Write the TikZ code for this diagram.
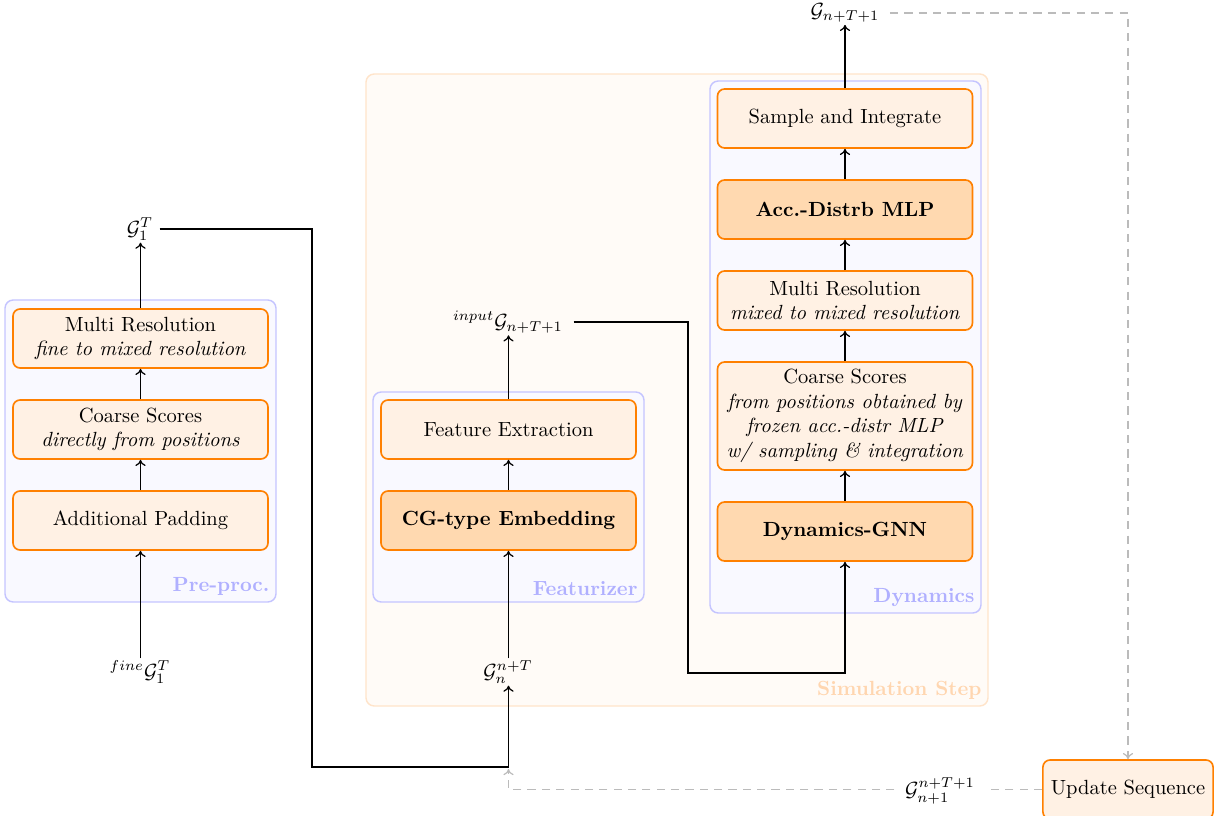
\documentclass[tikz,border=0pt]{standalone}
\usetikzlibrary{arrows.meta}
\definecolor{boxfill}{HTML}{FFF1E4}
\definecolor{boxdark}{HTML}{FFD9B0}
\definecolor{boxline}{HTML}{FF8000}
\definecolor{grpfill}{HTML}{F9F9FF}
\definecolor{grpline}{HTML}{C4C4FF}
\definecolor{grptext}{HTML}{B0B0FF}
\definecolor{simfill}{HTML}{FFFBF7}
\definecolor{simline}{HTML}{FFE4CA}
\definecolor{simtext}{HTML}{FFD6B0}
\definecolor{dashgray}{HTML}{BBBBBB}
\begin{document}
\begin{tikzpicture}[x=0.4878pt,y=-0.4878pt,
  stagebox/.style={draw=boxline, fill=boxfill, line width=0.8pt, rounded corners=3.5pt,
    minimum width=124.4pt, minimum height=28.8pt, align=center, inner sep=2pt},
  stagedark/.style={stagebox, fill=boxdark, font=\bfseries},
  grp/.style={draw=grpline, fill=grpfill, line width=0.7pt, rounded corners=4pt},
  grplabel/.style={text=grptext, font=\bfseries, anchor=south east, inner sep=2pt},
  simgrp/.style={draw=simline, fill=simfill, line width=0.7pt, rounded corners=4pt},
  simlabel/.style={text=simtext, font=\bfseries, anchor=south east, inner sep=2pt},
  conn/.style={semithick, -{To[length=3pt,width=5pt]}},
  plain/.style={semithick},
  dconn/.style={dashgray, semithick, dashed, dash pattern=on 4pt off 3pt},
  mlabel/.style={inner sep=1pt}
]
\useasboundingbox (0,0) rectangle (1217,816);

% containers
\draw[simgrp] (366,74) rectangle (988,706);
\node[simlabel] (simlab) at (986,704) {Simulation Step};

\draw[grp] (5,300) rectangle (276,602);
\node[grplabel] (prelab) at (274,600) {Pre-proc.};

\draw[grp] (373,392) rectangle (644,602);
\node[grplabel] (featlab) at (642,600) {Featurizer};

\draw[grp] (710,81) rectangle (981,613);
\node[grplabel] (dynlab) at (979,611) {Dynamics};

% Pre-proc column
\node[stagebox] (pad) at (140.5,520.5) {Additional Padding};
\node[stagebox] (cs1) at (140.5,429.5) {Coarse Scores\\\textit{directly from positions}};
\node[stagebox] (mr1) at (140.5,338.5) {Multi Resolution\\\textit{fine to mixed resolution}};
\node[mlabel] (g1T) at (140,229) {$\mathcal{G}_1^T$};
\node[mlabel] (fine) at (140,672) {${}^{fine}\mathcal{G}_1^T$};

% Featurizer column
\node[stagedark] (cge) at (508.5,520.5) {CG-type Embedding};
\node[stagebox] (fe) at (508.5,429.5) {Feature Extraction};
\node[mlabel] (gin) at (508,322) {${}^{input}\mathcal{G}_{n+T+1}$};
\node[mlabel] (gnT) at (508,672) {$\mathcal{G}_n^{n+T}$};

% Dynamics column
\node[stagedark] (gnn) at (845,531.5) {Dynamics-GNN};
\node[stagebox, minimum height=52.7pt] (cs2) at (845,416) {Coarse Scores\\\textit{from positions obtained by}\\\textit{frozen acc.-distr MLP}\\\textit{w/ sampling \& integration}};
\node[stagebox] (mr2) at (845,300.5) {Multi Resolution\\\textit{mixed to mixed resolution}};
\node[stagedark] (mlp) at (845,209.5) {Acc.-Distrb MLP};
\node[stagebox] (si) at (845,118.5) {Sample and Integrate};
\node[mlabel] (gout) at (845,13) {$\mathcal{G}_{n+T+1}$};

% Update
\node[stagebox, minimum width=83pt, inner sep=1pt] (upd) at (1128,789.5) {Update Sequence};
\node[mlabel] (gnext) at (940,791) {$\mathcal{G}_{n+1}^{n+T+1}$};

% coordinates
\coordinate (c1) at (312,767);
\coordinate (c3) at (508.5,767);
\coordinate (c2) at (688,673);

% connectors
\draw[conn] (pad.south |- fine.north) -- (pad.south);
\draw[conn] (pad.north) -- (cs1.south);
\draw[conn] (cs1.north) -- (mr1.south);
\draw[conn] (mr1.north) -- (mr1.north |- g1T.south);

\draw[conn] (cge.south |- gnT.north) -- (cge.south);
\draw[conn] (cge.north) -- (fe.south);
\draw[conn] (fe.north) -- (fe.north |- gin.south);

\draw[conn] (gnn.north) -- (cs2.south);
\draw[conn] (cs2.north) -- (mr2.south);
\draw[conn] (mr2.north) -- (mlp.south);
\draw[conn] (mlp.north) -- (si.south);
\draw[conn] (si.north) -- (si.north |- gout.south);

\draw[plain] ([xshift=2pt]g1T.east) -| (c1) -- (c3);
\draw[conn] (c3) -- (c3 |- gnT.south);
\draw[conn] ([xshift=4pt]gin.east) -| (c2) -| (gnn.south);

\draw[dconn, -{To[length=3pt,width=5pt]}] ([xshift=4pt]gout.east) -| (upd.north);
\draw[dconn] (upd.west) -- ([xshift=4pt]upd.west -| gnext.east);
\draw[dconn, -{To[length=3pt,width=5pt]}] ([xshift=-4pt]upd.west -| gnext.west) -| ([yshift=-1pt]c3);
\end{tikzpicture}
\end{document}
